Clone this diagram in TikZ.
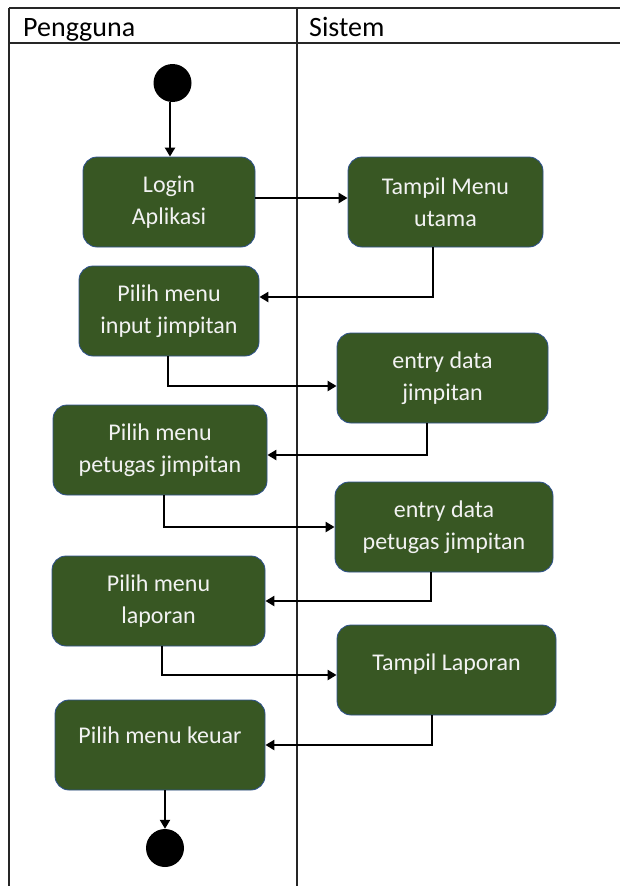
\documentclass[tikz,border=0pt]{standalone}
\usepackage{fontspec}
\setmainfont{Carlito}
\usetikzlibrary{arrows.meta}
\definecolor{actfill}{HTML}{385723}
\definecolor{actdraw}{HTML}{2F528F}
\definecolor{acttext}{HTML}{F2F2F2}
\begin{document}
\begin{tikzpicture}[x=1pt,y=-1pt,
  act/.style={draw=actdraw, line width=0.8pt, fill=actfill, rounded corners=14pt,
    text=acttext, font=\fontsize{24}{32}\selectfont, align=center, inner sep=0pt,
    minimum height=90pt},
  flow/.style={line width=2.3pt, -{Triangle[length=9pt,width=10pt]}},
  lane/.style={line width=1.3pt, draw=black!85},
  dot/.style={circle, fill=black, minimum size=38pt, inner sep=0pt},
  hdr/.style={anchor=base west, inner sep=0pt, font=\fontsize{28}{32}\selectfont}]
\fill[white] (0,0) rectangle (620,886);
\useasboundingbox (0,0) rectangle (620,886);
% swimlanes
\draw[lane] (9,8) -- (620,8);
\draw[lane] (9,43) -- (620,43);
\draw[lane] (9,8) -- (9,886);
\draw[lane] (297,8) -- (297,886);
\node[hdr] (hpeng) at (23,36) {Pengguna};
\node[hdr] (hsis) at (309,36) {Sistem};
% nodes
\node[dot] (start) at (172.5,83) {};
\node[act, minimum width=172pt] (login) at (169,202) {Login\\Aplikasi};
\node[act, minimum width=195pt] (tampil1) at (445.5,202) {Tampil Menu\\utama};
\node[act, minimum width=180pt] (input) at (169,311) {Pilih menu\\input jimpitan};
\node[act, minimum width=211pt] (entry1) at (442.5,378) {entry data\\jimpitan};
\node[act, minimum width=214pt] (petugas) at (160,450) {Pilih menu\\petugas jimpitan};
\node[act, minimum width=218pt] (entry2) at (444,527) {entry data\\petugas jimpitan};
\node[act, minimum width=213pt] (laporan) at (158.5,601) {Pilih menu\\laporan};
\node[act, minimum width=219pt, text height=17pt, text depth=17pt] (tampil2) at (446.5,670) {Tampil Laporan};
\node[act, minimum width=210pt, text height=17pt, text depth=20pt] (keuar) at (160,745) {Pilih menu keuar};
\node[dot] (end) at (165,848) {};
% flows
\draw[flow] ([xshift=-2.5pt]start.south) -- ([xshift=1pt]login.north);
\draw[flow] ([yshift=4pt]login.east) -- ([yshift=4pt]tampil1.west);
\draw[flow] ([xshift=-12.5pt]tampil1.south) |- ([yshift=14pt]input.east);
\draw[flow] ([xshift=-1pt]input.south) |- ([yshift=-8pt]entry1.west);
\draw[flow] ([xshift=-15.5pt]entry1.south) |- ([yshift=-5pt]petugas.east);
\draw[flow] ([xshift=4pt]petugas.south) |- (entry2.west);
\draw[flow] ([xshift=-13pt]entry2.south) |- (laporan.east);
\draw[flow] ([xshift=3.5pt]laporan.south) |- ([yshift=-5pt]tampil2.west);
\draw[flow] ([xshift=-14.5pt]tampil2.south) |- (keuar.east);
\draw[flow] ([xshift=5pt]keuar.south) -- (end);
\end{tikzpicture}
\end{document}
